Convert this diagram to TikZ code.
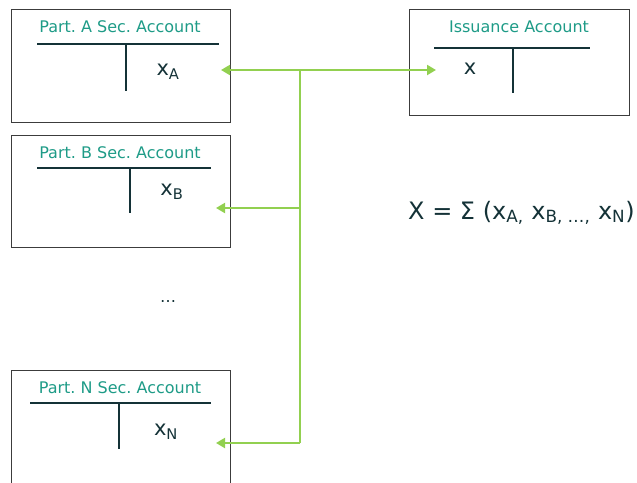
\documentclass[tikz,border=0pt]{standalone}
\usepackage{fontspec}
\setmainfont{DejaVu Sans}
\usetikzlibrary{arrows.meta}
\definecolor{tealtxt}{RGB}{30,155,135}
\definecolor{darkln}{RGB}{20,50,55}
\definecolor{arrgreen}{RGB}{146,208,80}
\definecolor{boxln}{RGB}{60,60,60}
\tikzset{
  acct/.style={draw=boxln, line width=1pt, anchor=north west, inner sep=0pt},
  ttl/.style={text=tealtxt, font=\fontsize{16}{18}\selectfont, inner sep=0pt},
  tline/.style={draw=darkln, line width=1.8pt},
  val/.style={text=darkln, font=\fontsize{21}{24}\selectfont, inner sep=0pt},
  flow/.style={draw=arrgreen, line width=2pt},
  flowarr/.style={flow, -{Triangle[length=9pt,width=10pt]}},
}
\begin{document}
\begin{tikzpicture}[x=1pt,y=-1pt]
\useasboundingbox (0,0) rectangle (637,482);
% boxes
\node[acct, minimum width=219pt, minimum height=113pt] (A) at (11,9) {};
\node[acct, minimum width=219pt, minimum height=112pt] (B) at (11,135) {};
\node[acct, minimum width=219pt, minimum height=125pt] (N) at (11,370) {};
\node[acct, minimum width=220pt, minimum height=106pt] (I) at (409,9) {};
% titles
\node[ttl] (tA) at (120,27) {Part.\ A Sec.\ Account};
\node[ttl] (tB) at (120,153) {Part.\ B Sec.\ Account};
\node[ttl] (tN) at (120,388) {Part.\ N Sec.\ Account};
\node[ttl] (tI) at (519,27) {Issuance Account};
% T lines
\draw[tline] (37,44) -- (219,44) (126,44) -- (126,91);
\draw[tline] (37,168) -- (211,168) (130,168) -- (130,213);
\draw[tline] (30,403) -- (211,403) (119,403) -- (119,449);
\draw[tline] (434,48) -- (590,48) (513,48) -- (513,93);
% values
\node[val] (xA) at (168,72) {x\textsubscript{A}};
\node[val] (xB) at (172,192) {x\textsubscript{B}};
\node[val] (xN) at (166,432) {x\textsubscript{N}};
\node[val] (xI) at (470,69) {x};
\node[val, font=\fontsize{16}{18}\selectfont] (dots) at (168,302) {…};
\node[val, anchor=west, font=\fontsize{24}{27}\selectfont] (sum) at (408,213) {X = Σ (x\textsubscript{A,} x\textsubscript{B, …,} x\textsubscript{N})};
% connectors
\coordinate (hub) at (300,70);
\coordinate (jB) at (300,208);
\coordinate (jN) at (300,443);
\coordinate (eA) at (221,70);
\coordinate (eI) at (436,70);
\coordinate (eB) at (216,208);
\coordinate (eN) at (216,443);
\draw[flow] (hub) -- (jN);
\draw[flowarr] (hub) -- (eA);
\draw[flowarr] (hub) -- (eI);
\draw[flowarr] (jB) -- (eB);
\draw[flowarr] (jN) -- (eN);
\end{tikzpicture}
\end{document}
